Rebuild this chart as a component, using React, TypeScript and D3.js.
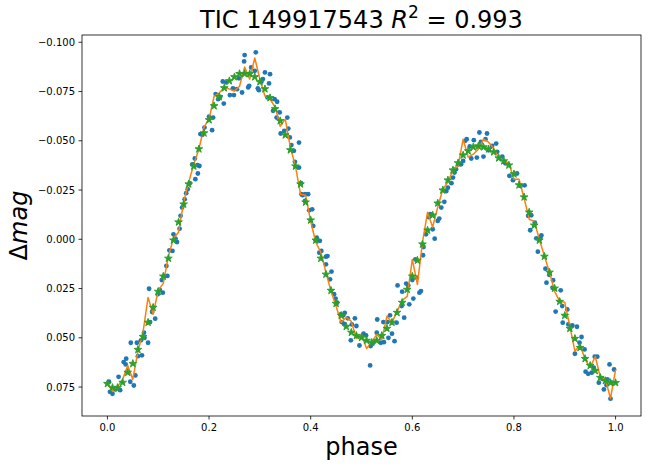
import React from 'react';
import * as d3 from 'd3';

// phase bins of the folded light curve (0.00 ... 1.00)
const phaseBins = d3.range(0, 101).map((i) => i / 100);

// smoothed model (green stars)
const modelMag = [
  0.0733, 0.0753, 0.0753, 0.0727, 0.0676, 0.0631, 0.056, 0.0494, 0.0422, 0.0346,
  0.0265, 0.0188, 0.0097, 0.0005, -0.0087, -0.0178, -0.028, -0.0371, -0.0458, -0.0539,
  -0.0606, -0.0677, -0.0723, -0.0768, -0.0804, -0.0824, -0.084, -0.084, -0.084, -0.0824,
  -0.0799, -0.0763, -0.0718, -0.0662, -0.0601, -0.0529, -0.0453, -0.0371, -0.028, -0.0188,
  -0.0097, 0.0005, 0.0097, 0.0178, 0.026, 0.0326, 0.0387, 0.0443, 0.0473, 0.0489,
  0.0499, 0.0514, 0.0524, 0.0514, 0.0489, 0.0453, 0.0422, 0.0372, 0.0321, 0.0255,
  0.0188, 0.0107, 0.0025, -0.0046, -0.0122, -0.0183, -0.0249, -0.03, -0.0351, -0.0387,
  -0.0427, -0.0448, -0.0468, -0.0473, -0.0468, -0.0458, -0.0443, -0.0412, -0.0397, -0.0376,
  -0.0331, -0.0275, -0.0214, -0.0137, -0.0071, 0.0005, 0.0087, 0.0168, 0.0249, 0.0316,
  0.0387, 0.0453, 0.0504, 0.055, 0.0606, 0.0641, 0.0667, 0.0702, 0.0718, 0.0728,
  0.0728,
];

// binned light curve (orange line)
const binnedMag = [
  0.0732, 0.0772, 0.0747, 0.0711, 0.064, 0.0711, 0.0569, 0.0473, 0.0295, 0.0381,
  0.0259, 0.0224, 0.0086, -0.0005, -0.0036, -0.0188, -0.029, -0.0381, -0.0457, -0.0569,
  -0.061, -0.0727, -0.0742, -0.0772, -0.0762, -0.0752, -0.0777, -0.0874, -0.0813, -0.092,
  -0.0813, -0.0727, -0.0711, -0.0671, -0.0574, -0.061, -0.0467, -0.0371, -0.0229, -0.0224,
  -0.0091, 0.0015, 0.0066, 0.0168, 0.0264, 0.034, 0.0422, 0.0396, 0.0417, 0.0503,
  0.0483, 0.0554, 0.0523, 0.0483, 0.0508, 0.0391, 0.0422, 0.0366, 0.031, 0.029,
  0.0102, 0.0229, 0.0015, -0.0137, -0.0061, -0.0163, -0.0254, -0.029, -0.0351, -0.0371,
  -0.0508, -0.0417, -0.0432, -0.0457, -0.0508, -0.0493, -0.0462, -0.0412, -0.0396, -0.0386,
  -0.0305, -0.0305, -0.0208, -0.0102, -0.0091, 0.0, 0.0086, 0.0168, 0.0264, 0.0315,
  0.032, 0.0442, 0.0569, 0.0534, 0.061, 0.065, 0.0595, 0.0701, 0.0711, 0.0808,
  0.0661,
];

// raw observations [phase, delta mag] (blue dots)
const observed: [number, number][] = [
  [0.003, 0.0723], [0.005, 0.0774], [0.01, 0.0784], [0.016, 0.0762], [0.022, 0.0698], [0.025, 0.0766],
  [0.032, 0.0623], [0.036, 0.0635], [0.037, 0.0606], [0.045, 0.0723], [0.046, 0.0525], [0.052, 0.0742],
  [0.055, 0.0691], [0.058, 0.0525], [0.06, 0.0593], [0.066, 0.0513], [0.068, 0.0589], [0.072, 0.0474],
  [0.073, 0.05], [0.08, 0.0525], [0.082, 0.0251], [0.084, 0.042], [0.088, 0.0369], [0.094, 0.0403],
  [0.099, 0.0279], [0.103, 0.0257], [0.107, 0.0207], [0.109, 0.0271], [0.112, 0.0186], [0.116, 0.0135],
  [0.118, 0.0186], [0.122, 0.0056], [0.128, 0.0059], [0.13, -0.0025], [0.134, -0.0003], [0.137, 0.0014],
  [0.142, -0.0054], [0.144, -0.0119], [0.147, -0.0161], [0.152, -0.0203], [0.155, -0.0234], [0.158, -0.0254],
  [0.162, -0.0285], [0.167, -0.038], [0.172, -0.041], [0.173, -0.0305], [0.177, -0.0376], [0.178, -0.0334],
  [0.181, -0.0372], [0.183, -0.0534], [0.187, -0.053], [0.191, -0.0567],
  [0.2, -0.0623], [0.206, -0.0554], [0.208, -0.0618], [0.213, -0.0737], [0.218, -0.0711], [0.222, -0.0723],
  [0.227, -0.0801], [0.229, -0.0689], [0.234, -0.0796], [0.241, -0.0732], [0.247, -0.0766], [0.249, -0.0732],
  [0.255, -0.0762], [0.259, -0.0817], [0.265, -0.0745], [0.269, -0.0903], [0.27, -0.0935], [0.277, -0.0771],
  [0.279, -0.0779], [0.283, -0.0872], [0.29, -0.0855], [0.292, -0.0949], [0.296, -0.0766], [0.298, -0.0757],
  [0.303, -0.0799], [0.306, -0.0813], [0.31, -0.0847], [0.315, -0.072], [0.318, -0.0791], [0.32, -0.0838],
  [0.326, -0.0652], [0.329, -0.0711], [0.333, -0.0618], [0.334, -0.0698], [0.339, -0.0644], [0.341, -0.0537],
  [0.348, -0.055], [0.354, -0.0618], [0.356, -0.0562], [0.359, -0.0517], [0.362, -0.0478], [0.367, -0.0449],
  [0.369, -0.0393], [0.377, -0.0491], [0.377, -0.0364], [0.381, -0.0285], [0.384, -0.0224], [0.389, -0.0195],
  [0.382, -0.0229], [0.389, -0.0229], [0.395, -0.0229], [0.397, -0.0147], [0.403, -0.0152], [0.405, -0.0068],
  [0.41, 0.0005], [0.412, -0.0008], [0.417, 0.0068], [0.418, 0.0008], [0.421, 0.0059], [0.43, 0.0088],
  [0.43, 0.0127], [0.433, 0.0085], [0.438, 0.0203], [0.441, 0.0164], [0.446, 0.0279], [0.449, 0.0301],
  [0.452, 0.0322], [0.459, 0.0381], [0.461, 0.042], [0.464, 0.0386], [0.466, 0.0429], [0.467, 0.0373],
  [0.473, 0.0401], [0.479, 0.0513], [0.481, 0.0432], [0.487, 0.0401], [0.49, 0.044], [0.496, 0.0539],
  [0.504, 0.0479], [0.509, 0.0488], [0.517, 0.064], [0.518, 0.0542], [0.523, 0.0525], [0.53, 0.0474],
  [0.531, 0.0407], [0.538, 0.0525], [0.543, 0.042], [0.544, 0.0522], [0.551, 0.042], [0.553, 0.05],
  [0.556, 0.0386], [0.56, 0.0479], [0.565, 0.0517], [0.569, 0.0423], [0.571, 0.0234], [0.579, 0.0339],
  [0.58, 0.0266], [0.584, 0.0398], [0.588, 0.0225],
  [0.592, 0.0234], [0.594, 0.033], [0.6, 0.0207], [0.602, 0.0301], [0.606, 0.0102], [0.609, 0.0195],
  [0.614, 0.0271], [0.617, 0.0263], [0.621, 0.0081], [0.622, 0.0039], [0.627, -0.0025], [0.632, -0.0113],
  [0.635, -0.0127], [0.64, -0.0051], [0.644, -0.0003], [0.65, -0.0093], [0.653, -0.0105], [0.657, -0.0161],
  [0.663, -0.019], [0.667, -0.0245], [0.67, -0.0262], [0.677, -0.0285], [0.68, -0.0313], [0.683, -0.0339],
  [0.686, -0.0356], [0.691, -0.0381], [0.696, -0.0381], [0.7, -0.0398], [0.704, -0.05], [0.707, -0.0508],
  [0.713, -0.0471], [0.716, -0.041], [0.721, -0.0503], [0.727, -0.0415], [0.732, -0.0542], [0.735, -0.0494],
  [0.74, -0.042], [0.744, -0.0508], [0.747, -0.0537], [0.75, -0.0452], [0.757, -0.0474], [0.765, -0.0486],
  [0.767, -0.0444], [0.777, -0.042], [0.783, -0.0386],
  [0.791, -0.0322], [0.798, -0.03], [0.806, -0.0334], [0.813, -0.0271], [0.821, -0.0274], [0.828, -0.0119],
  [0.832, -0.0046], [0.834, -0.0122], [0.841, -0.0085], [0.844, -0.0005], [0.847, 0.0063], [0.852, -0.0008],
  [0.854, -0.002], [0.862, 0.0149], [0.864, 0.022], [0.87, 0.0181], [0.876, 0.0246], [0.877, 0.0208],
  [0.882, 0.0367], [0.892, 0.0259], [0.895, 0.0339], [0.896, 0.0423], [0.905, 0.0356], [0.907, 0.0432],
  [0.915, 0.0437], [0.92, 0.0581], [0.924, 0.0444], [0.929, 0.0525], [0.933, 0.0496], [0.939, 0.0559],
  [0.941, 0.0672], [0.946, 0.0683], [0.953, 0.0677], [0.957, 0.0652], [0.959, 0.0596], [0.964, 0.0596],
  [0.967, 0.0728], [0.974, 0.0708], [0.977, 0.0762], [0.982, 0.074], [0.984, 0.0711], [0.988, 0.0635],
  [0.99, 0.0809], [0.993, 0.0728], [0.997, 0.0661],
];

const xTicks = [0, 0.2, 0.4, 0.6, 0.8, 1.0];
const yTicks = [-0.1, -0.075, -0.05, -0.025, 0, 0.025, 0.05, 0.075];

const width = 647;
const height = 468;
const margin = { top: 35, right: 6, bottom: 52, left: 82 };
const font = 'DejaVu Sans, sans-serif';

// matplotlib style 5% padding
const padded = (lo: number, hi: number) => {
  const d = (hi - lo) * 0.05;
  return [lo - d, hi + d];
};

const starPath = (r: number) => {
  const inner = r * 0.381966;
  const pts = d3.range(10).map((i) => {
    const a = -Math.PI / 2 + (i * Math.PI) / 5;
    const rr = i % 2 === 0 ? r : inner;
    return [rr * Math.cos(a), rr * Math.sin(a)];
  });
  return 'M' + pts.map((p) => p.join(',')).join('L') + 'Z';
};

const App = () => {
  const allMag = [...modelMag, ...binnedMag, ...observed.map((d) => d[1])];
  const allPhase = [...phaseBins, ...observed.map((d) => d[0])];

  const x = d3
    .scaleLinear()
    .domain(padded(d3.min(allPhase)!, d3.max(allPhase)!))
    .range([margin.left, width - margin.right]);

  // magnitudes: brighter (negative) at the top
  const y = d3
    .scaleLinear()
    .domain(padded(d3.min(allMag)!, d3.max(allMag)!))
    .range([margin.top, height - margin.bottom]);

  const line = d3
    .line<number>()
    .x((_, i) => x(phaseBins[i]))
    .y((d) => y(d));

  const fmtX = d3.format('.1f');
  const fmtY = d3.format('.3f');
  const star = starPath(4);
  const plotW = width - margin.left - margin.right;
  const plotH = height - margin.top - margin.bottom;
  const cx = margin.left + plotW / 2;
  const cy = margin.top + plotH / 2;

  return (
    <svg
      width={width}
      height={height}
      style={{ position: 'absolute', left: 0, top: 0, background: '#fff' }}
      fontFamily={font}
    >
      <rect width={width} height={height} fill="#fff" />

      {/* raw points */}
      <g fill="#1f77b4">
        {observed.map((d, i) => (
          <circle key={i} cx={x(d[0])} cy={y(d[1])} r={2.4} />
        ))}
      </g>

      {/* binned curve */}
      <path d={line(binnedMag)!} fill="none" stroke="#ff7f0e" strokeWidth={1.5} strokeLinejoin="round" />

      {/* model stars */}
      <g fill="#2ca02c" stroke="#2ca02c" strokeWidth={1}>
        {modelMag.map((m, i) => (
          <path key={i} d={star} transform={`translate(${x(phaseBins[i])},${y(m)})`} />
        ))}
      </g>

      {/* frame */}
      <rect
        x={margin.left}
        y={margin.top}
        width={plotW}
        height={plotH}
        fill="none"
        stroke="#000"
        strokeWidth={0.8}
      />

      {/* x axis */}
      <g fontSize={10} textAnchor="middle" fill="#000">
        {xTicks.map((t) => (
          <g key={t} transform={`translate(${x(t)},${height - margin.bottom})`}>
            <line y2={3.5} stroke="#000" strokeWidth={0.8} />
            <text y={15}>{fmtX(t)}</text>
          </g>
        ))}
      </g>

      {/* y axis */}
      <g fontSize={10} textAnchor="end" fill="#000">
        {yTicks.map((t) => (
          <g key={t} transform={`translate(${margin.left},${y(t)})`}>
            <line x2={-3.5} stroke="#000" strokeWidth={0.8} />
            <text x={-7} dy="0.35em">{fmtY(t)}</text>
          </g>
        ))}
      </g>

      {/* labels */}
      <text x={cx} y={455} fontSize={24} textAnchor="middle">
        phase
      </text>
      <text transform={`translate(27,${cy}) rotate(-90)`} fontSize={24} textAnchor="middle">
        Δ<tspan fontStyle="italic">mag</tspan>
      </text>

      <text x={cx} y={28} fontSize={24} textAnchor="middle">
        TIC 149917543 <tspan fontStyle="italic">R</tspan>
        <tspan fontSize={17} dy={-10}>2</tspan>
        <tspan dy={10}> = 0.993</tspan>
      </text>
    </svg>
  );
};

export default App;
